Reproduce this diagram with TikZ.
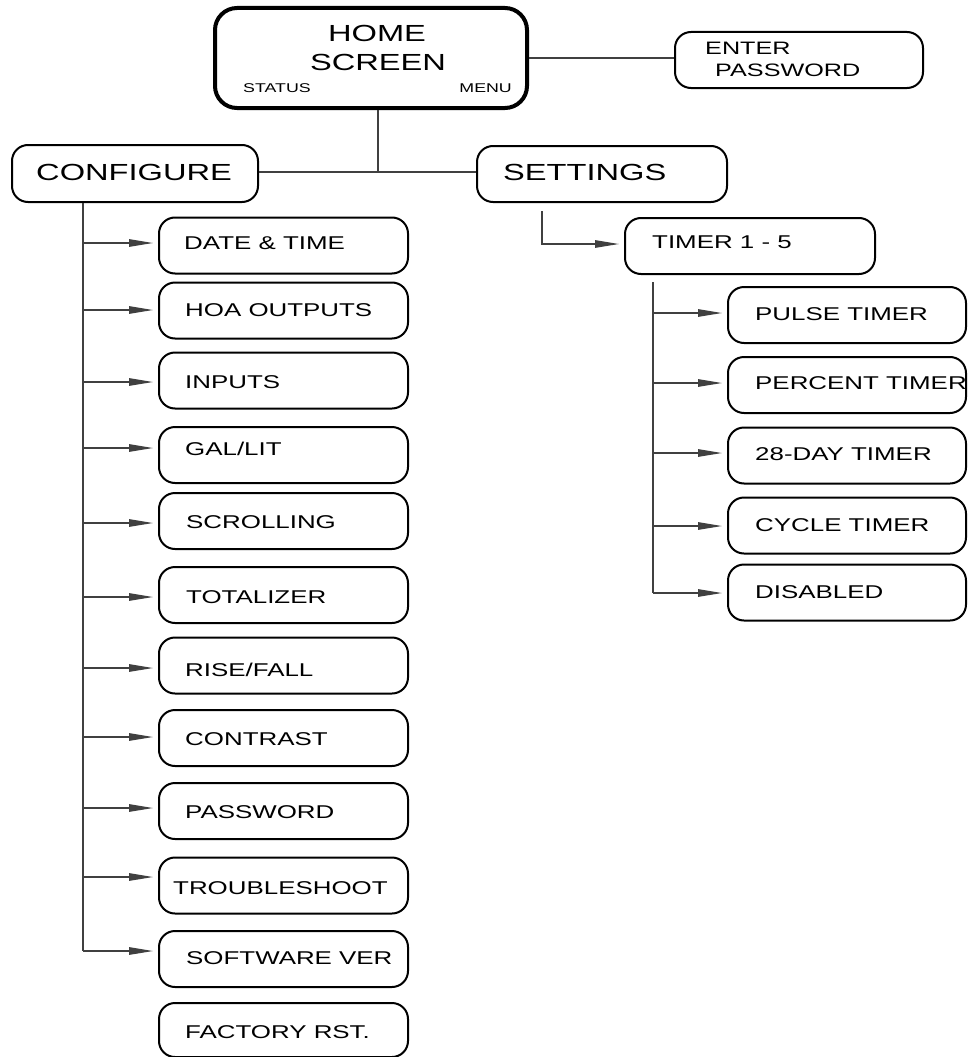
\documentclass[tikz,border=0pt]{standalone}
\usepackage{fontspec}
\setmainfont{Liberation Sans}[FakeStretch=1.4]
\usetikzlibrary{arrows.meta}
\begin{document}
\begin{tikzpicture}[x=1pt,y=-1pt,
  box/.style={draw=black, line width=2pt, rounded corners=16pt, minimum width=249pt, minimum height=56pt, inner sep=0pt},
  rbox/.style={box, minimum width=238pt},
  hbox/.style={draw=black, line width=4pt, rounded corners=22pt, minimum width=312pt, minimum height=100pt, inner sep=0pt},
  lbl/.style={anchor=base west, inner sep=0pt, font=\fontsize{18.5}{20}\selectfont},
  biglbl/.style={anchor=base west, inner sep=0pt, font=\fontsize{23.3}{26}\selectfont},
  conn/.style={draw=black!75, line width=1.3pt},
  arr/.style={conn, -{Triangle[length=24pt,width=7.5pt]}, shorten >=5pt}
]
\useasboundingbox (0,0) rectangle (970,1057);

% top level
\node[hbox] (home) at (371,58) {};
\node[anchor=base, inner sep=0pt, font=\fontsize{23.3}{26}\selectfont] (homet1) at (377,41.3) {HOME};
\node[anchor=base, inner sep=0pt, font=\fontsize{23.3}{26}\selectfont] (homet2) at (378,70.3) {SCREEN};
\node[anchor=base west, inner sep=0pt, font=\fontsize{12.7}{14}\selectfont] (status) at (243,92.6) {STATUS};
\node[anchor=base east, inner sep=0pt, font=\fontsize{12.7}{14}\selectfont] (menu) at (512,92.6) {MENU};

\node[box, minimum width=248pt] (pw) at (799,60) {};
\node[anchor=base west, inner sep=0pt, font=\fontsize{18}{20}\selectfont] (pwt1) at (705,54.4) {ENTER};
\node[anchor=base west, inner sep=0pt, font=\fontsize{18}{20}\selectfont] (pwt2) at (715,76.4) {PASSWORD};

\node[box, minimum width=246pt, minimum height=57pt] (cfg) at (135,173.5) {};
\node[biglbl] (cfgt) at (36,180.3) {CONFIGURE};
\node[box, minimum width=250pt, minimum height=56pt] (set) at (602,174) {};
\node[biglbl] (sett) at (503,180.3) {SETTINGS};

\node[box, minimum width=250pt] (tmr) at (750,246) {};
\node[lbl] (tmrt) at (652,248.6) {TIMER 1 - 5};

% connectors top
\draw[conn] (home.east) -- (home.east -| pw.west);
\coordinate (hj) at (378,172);
\draw[conn] (home.south -| hj) -- (hj);
\draw[conn] (cfg.east |- hj) -- (set.west |- hj);

% configure column
\node[box] (d1) at (283.5,245.5) {};
\node[box] (d2) at (283.5,310.5) {};
\node[box] (d3) at (283.5,380.5) {};
\node[box] (d4) at (283.5,455) {};
\node[box] (d5) at (283.5,521) {};
\node[box] (d6) at (283.5,595) {};
\node[box] (d7) at (283.5,665.5) {};
\node[box] (d8) at (283.5,738) {};
\node[box] (d9) at (283.5,811) {};
\node[box] (d10) at (283.5,885.5) {};
\node[box] (d11) at (283.5,959) {};
\node[box, minimum height=54pt] (d12) at (283.5,1030) {};

\node[lbl] (l1) at (184,249.6) {DATE \& TIME};
\node[lbl] (l2) at (185,316.6) {HOA OUTPUTS};
\node[lbl] (l3) at (185,388.6) {INPUTS};
\node[lbl] (l4) at (185,455.6) {GAL/LIT};
\node[lbl] (l5) at (186,528.6) {SCROLLING};
\node[lbl] (l6) at (186,603.6) {TOTALIZER};
\node[lbl] (l7) at (185,676.6) {RISE/FALL};
\node[lbl] (l8) at (185,745.6) {CONTRAST};
\node[lbl] (l9) at (185,818.6) {PASSWORD};
\node[lbl] (l10) at (173,894.6) {TROUBLESHOOT};
\node[lbl] (l11) at (186,964.6) {SOFTWARE VER};
\node[lbl] (l12) at (185,1038.6) {FACTORY RST.};

\coordinate (ct) at (83,951);
\draw[conn] (cfg.south -| ct) -- (ct);
\foreach \i/\y in {1/243,2/310,3/382,4/448,5/523,6/597,7/668,8/737,9/808,10/877,11/951}{
  \coordinate (a\i) at (83,\y);
  \draw[arr] (a\i) -- (a\i -| d\i.west);
}

% settings branch
\coordinate (s1) at (542,211);
\coordinate (s2) at (542,244);
\draw[arr] (s1) -- (s2) -- (s2 -| tmr.west);

% timer column
\node[rbox] (r1) at (847,315) {};
\node[rbox] (r2) at (847,385) {};
\node[rbox] (r3) at (847,455.5) {};
\node[rbox] (r4) at (847,525.5) {};
\node[rbox] (r5) at (847,592.5) {};

\node[lbl] (rl1) at (755,320.6) {PULSE TIMER};
\node[lbl] (rl2) at (755,389.6) {PERCENT TIMER};
\node[lbl] (rl3) at (755,460.6) {28-DAY TIMER};
\node[lbl] (rl4) at (755,531.6) {CYCLE TIMER};
\node[lbl] (rl5) at (755,598.6) {DISABLED};

\coordinate (tt) at (653,282);
\coordinate (te) at (653,593);
\draw[conn] (tt) -- (te);
\foreach \i/\y in {1/313,2/383,3/453,4/526,5/593}{
  \coordinate (b\i) at (653,\y);
  \draw[arr] (b\i) -- (b\i -| r\i.west);
}
\end{tikzpicture}
\end{document}
